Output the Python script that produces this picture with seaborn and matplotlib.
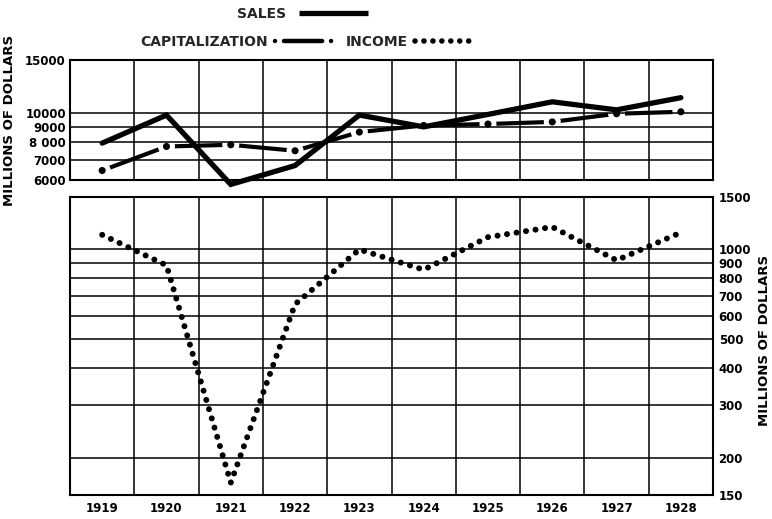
import matplotlib
matplotlib.use("Agg")
import matplotlib.pyplot as plt
import seaborn as sns
from matplotlib.ticker import FixedLocator, FixedFormatter, NullLocator
from matplotlib.lines import Line2D

# ---- data ----
years = [1919, 1920, 1921, 1922, 1923, 1924, 1925, 1926, 1927, 1928]
sales = [7950, 9850, 5800, 6700, 9850, 9000, 9900, 10900, 10250, 11250]
capitalization = [6450, 7750, 7850, 7500, 8650, 9100, 9200, 9350, 9950, 10100]
income = [1120, 885, 165, 655, 1000, 855, 1100, 1190, 920, 1140]

top_ticks = [6000, 7000, 8000, 9000, 10000, 15000]
top_tick_labels = ["6000", "7000", "8 000", "9000", "10000", "15000"]
bottom_ticks = [150, 200, 300, 400, 500, 600, 700, 800, 900, 1000, 1500]
bottom_tick_labels = ["150", "200", "300", "400", "500", "600", "700", "800", "900", "1000", "1500"]
year_labels = ["1919", "1920", "1921", "1922", "1923", "1924", "1925", "1926", "1927", "1928"]

sns.set_theme(style="white")
plt.rcParams["font.family"] = ["DejaVu Sans"]
plt.rcParams["font.weight"] = "bold"
plt.rcParams["axes.edgecolor"] = "black"

fig = plt.figure(figsize=(7.72, 5.19), dpi=100)
ax1 = fig.add_axes([0.0907, 0.6532, 0.8329, 0.2312])
ax2 = fig.add_axes([0.0907, 0.0462, 0.8329, 0.5742])

boundaries = [y + 0.5 for y in years[:-1]]

for ax in (ax1, ax2):
    ax.set_yscale("log")
    ax.set_xlim(years[0] - 0.5, years[-1] + 0.5)
    ax.xaxis.set_major_locator(FixedLocator(years))
    ax.xaxis.set_minor_locator(FixedLocator(boundaries))
    ax.yaxis.set_minor_locator(NullLocator())
    ax.set_axisbelow("line")
    ax.grid(True, which="minor", axis="x", color="black", lw=1.1)
    ax.grid(True, which="major", axis="y", color="black", lw=1.1)
    ax.grid(False, which="major", axis="x")
    ax.tick_params(which="both", length=0)
    for s in ax.spines.values():
        s.set_color("black")
        s.set_linewidth(1.5)

# ---- top panel: sales & capitalization ----
ax1.set_ylim(6000, 15000)
sns.lineplot(x=years, y=capitalization, ax=ax1, color="black", lw=3.0,
             zorder=1, solid_capstyle="butt")
sns.scatterplot(x=years, y=capitalization, ax=ax1, color="white", s=150,
                edgecolor="none", linewidth=0, zorder=1.2)
sns.scatterplot(x=years, y=capitalization, ax=ax1, color="black", s=26,
                edgecolor="none", linewidth=0, zorder=3)
sns.lineplot(x=years, y=sales, ax=ax1, color="black", lw=3.8, zorder=3,
             solid_capstyle="round", solid_joinstyle="miter", clip_on=False)
ax1.set_ylim(6000, 15000)
ax1.yaxis.set_major_locator(FixedLocator(top_ticks))
ax1.yaxis.set_major_formatter(FixedFormatter(top_tick_labels))
ax1.tick_params(axis="y", labelsize=8.5, pad=3, labelcolor="black")
ax1.tick_params(axis="x", labelbottom=False)
ax1.set_xlabel("")
ax1.set_ylabel("")

# ---- bottom panel: income ----
sns.lineplot(x=years, y=income, ax=ax2, color="black", lw=4.3, zorder=3,
             linestyle=(0, (0.01, 1.6)), dash_capstyle="round")
ax2.set_ylim(150, 1500)
ax2.yaxis.tick_right()
ax2.yaxis.set_major_locator(FixedLocator(bottom_ticks))
ax2.yaxis.set_major_formatter(FixedFormatter(bottom_tick_labels))
ax2.tick_params(axis="y", labelsize=8.5, pad=4, labelcolor="black",
                right=True, left=False, labelright=True, labelleft=False)
ax2.xaxis.set_major_formatter(FixedFormatter(year_labels))
ax2.tick_params(axis="x", labelsize=8.5, pad=5, labelcolor="black")
ax2.set_xlabel("")
ax2.set_ylabel("")

# ---- axis titles ----
fig.text(0.0125, 0.767, "MILLIONS OF DOLLARS", rotation=90, ha="center",
         va="center", fontsize=9.5, fontweight="bold", color="black")
fig.text(0.990, 0.345, "MILLIONS OF DOLLARS", rotation=90, ha="center",
         va="center", fontsize=9.5, fontweight="bold", color="black")

# ---- legend ----
sales_h = Line2D([], [], color="black", lw=3.8, solid_capstyle="butt")
cap_h = Line2D([], [], color="black", lw=3.2,
               linestyle=(0, (0.01, 2.0, 8.6, 2.0, 0.01, 40)),
               dash_capstyle="round")
inc_h = Line2D([], [], color="black", lw=4.0, linestyle=(0, (0.01, 1.6)),
               dash_capstyle="round")

leg1 = fig.legend(handles=[sales_h], labels=["SALES"], loc="center",
                  bbox_to_anchor=(0.392, 0.973), frameon=False,
                  markerfirst=False, handlelength=5.0, handletextpad=0.9,
                  prop={"size": 10, "weight": "bold"})
leg2 = fig.legend(handles=[cap_h, inc_h], labels=["CAPITALIZATION", "INCOME"],
                  ncol=2, loc="center", bbox_to_anchor=(0.397, 0.919),
                  frameon=False, markerfirst=False, handlelength=4.2,
                  handletextpad=0.5, columnspacing=0.9,
                  prop={"size": 10, "weight": "bold"})

fig.savefig("out.png", dpi=100, facecolor="white")
